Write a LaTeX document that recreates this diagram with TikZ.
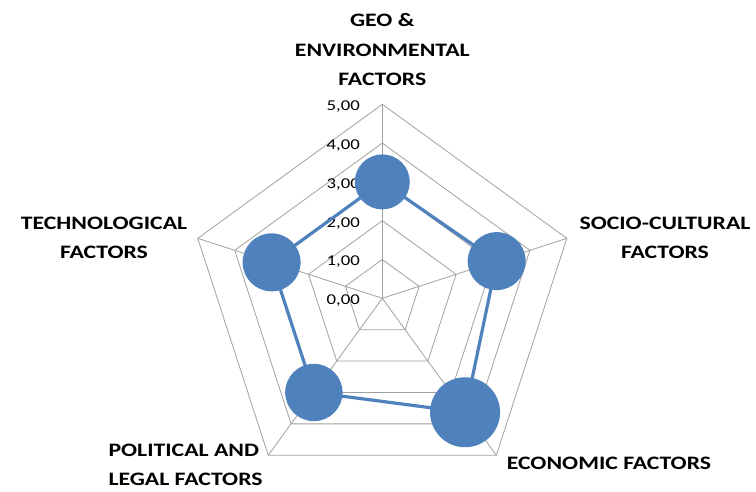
\documentclass[tikz,border=0pt]{standalone}
\usepackage{fontspec}
\setmainfont{Carlito}
\newfontfamily\widefont[FakeStretch=1.25]{Carlito}
\usetikzlibrary{positioning}
\definecolor{serieblue}{HTML}{4F81BD}
\definecolor{gridgray}{HTML}{A0A0A0}

\begin{document}
\begin{tikzpicture}[x=1pt, y=1pt, >=latex]

\useasboundingbox (0,0) rectangle (756,491);

\begin{scope}[shift={(382.3,192.7)}]

% Pentagon rings at each unit
\foreach \r in {1,...,5} {
  \draw [gridgray, line width=0.8pt] (90:\r*38.8) -- (18:\r*38.8) -- (-54:\r*38.8)
    -- (-126:\r*38.8) -- (162:\r*38.8) -- cycle;
}

% Spokes from the centre
\foreach \ang in {90, 18, -54, -126, 162} {
  \draw [gridgray, line width=0.8pt] (0,0) -- (\ang:194);
}

% Scale labels on the vertical axis
\foreach \s in {0, 1, 2, 3, 4, 5} {
  \node [anchor=east, font=\widefont\fontsize{15}{15}\selectfont] (tick\s) at (-19, \s*38.8 - 2.5) {\s,00};
}

% Markers at the values
\foreach \name/\ang/\val/\rad in {
  geo/90/3.0/27.5,
  socio/18/3.1/29,
  econ/-54/3.63/35,
  pol/-126/3.0/28.7,
  tech/162/3.0/29} {
  \node [circle, fill=serieblue, inner sep=0, minimum size=2*\rad] (\name) at (\ang:\val*38.8) {};
}

% Series line
\draw [serieblue, line width=3.2pt, line join=round]
  (geo.center) -- (socio.center) -- (econ.center) -- (pol.center) -- (tech.center) -- cycle;

% Category labels
\tikzset{catlabel/.style={font=\widefont\bfseries\fontsize{19}{29.5}\selectfont, align=center}}
\node [catlabel] (geolab) at (0, 248.3) {GEO \&\\ENVIRONMENTAL\\FACTORS};
\node [catlabel] (sociolab) at (282.7, 60.3) {SOCIO-CULTURAL\\FACTORS};
\node [catlabel] (techlab) at (-278.3, 60.3) {TECHNOLOGICAL\\FACTORS};
\node [catlabel, align=left, anchor=west] (pollab) at (-277.3, -166.5) {POLITICAL AND\\LEGAL FACTORS};
\node [catlabel] (econlab) at (226.7, -164.7) {ECONOMIC FACTORS};

\end{scope}

\end{tikzpicture}
\end{document}
